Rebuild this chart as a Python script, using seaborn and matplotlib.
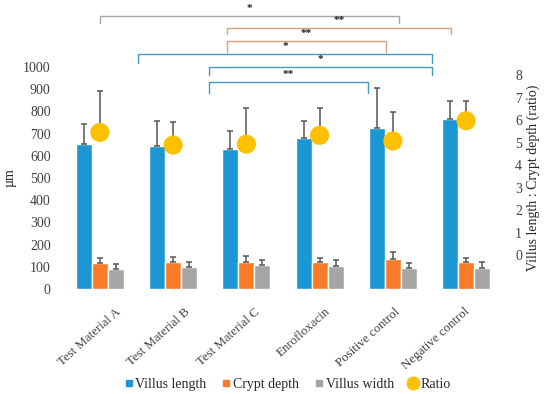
import pandas as pd
import matplotlib.pyplot as plt
import matplotlib.transforms as mtransforms
import seaborn as sns
from matplotlib.lines import Line2D

groups = ['Test Material A', 'Test Material B', 'Test Material C',
          'Enrofloxacin', 'Positive control', 'Negative control']
villus_length = [652, 645, 631, 682, 727, 766]
villus_length_sd = [91, 112, 79, 76, 177, 82]
crypt_depth = [117, 123, 122, 122, 134, 123]
crypt_depth_sd = [21, 21, 28, 19, 31, 17]
villus_width = [91, 99, 108, 105, 93, 96]
villus_width_sd = [20, 24, 21, 24, 24, 24]
ratio = [5.45, 4.89, 4.93, 5.32, 5.07, 5.97]
ratio_sd = [1.85, 1.03, 1.60, 1.20, 1.29, 0.86]

measures = ['Villus length', 'Crypt depth', 'Villus width']
colors = ['#1C97D4', '#F87B28', '#A5A5A5']

df = pd.DataFrame({
    'group': groups * 3,
    'measure': [m for m in measures for _ in groups],
    'value': villus_length + crypt_depth + villus_width,
})
sds = [villus_length_sd, crypt_depth_sd, villus_width_sd]

sns.set_style('white')
plt.rcParams['font.family'] = ['Liberation Serif', 'DejaVu Serif']
plt.rcParams['font.size'] = 10

fig = plt.figure(figsize=(5.5, 3.94), dpi=100)
ax = fig.add_axes([0.115, 0.2665, 0.799, 0.5635])

sns.barplot(data=df, x='group', y='value', hue='measure', palette=colors,
            width=0.655, gap=0, errorbar=None, saturation=1, ax=ax,
            legend=False, zorder=2)

# upper error bars from the drawn bars
for cont, sd in zip(ax.containers, sds):
    xs = [p.get_x() + p.get_width() / 2 for p in cont.patches]
    hs = [p.get_height() for p in cont.patches]
    ax.errorbar(xs, hs, yerr=[[0] * len(sd), sd], fmt='none', ecolor='#555555',
                elinewidth=1.1, capsize=2.5, capthick=1.1, zorder=3)

ax.set_ylim(0, 1000)
ax.set_yticks(range(0, 1001, 100))
ax.set_xlabel('')
ax.set_ylabel('µm', fontsize=10, labelpad=5)
ax.tick_params(axis='y', length=0, pad=9, labelcolor='#404040')
ax.tick_params(axis='x', length=0, pad=2, labelcolor='#404040', labelsize=9.3)
# Excel spaces the slanted labels a little tighter than the bars
for i, lbl in enumerate(ax.get_xticklabels()):
    shift = mtransforms.ScaledTranslation((15 - 3.5 * i) / 100, -14 / 100,
                                          fig.dpi_scale_trans)
    lbl.set_rotation(42)
    lbl.set_ha('right')
    lbl.set_rotation_mode('anchor')
    lbl.set_transform(lbl.get_transform() + shift)
for s in ax.spines.values():
    s.set_visible(False)

ax2 = ax.twinx()
ax2.errorbar(range(len(groups)), ratio, yerr=[[0] * len(ratio), ratio_sd],
             fmt='none', ecolor='#555555', elinewidth=1.1, capsize=2.5,
             capthick=1.1, zorder=3)
sns.scatterplot(x=list(range(len(groups))), y=ratio, ax=ax2, color='#FFC000',
                s=190, edgecolor='none', zorder=4)
ax2.set_ylim(-1.51, 8.36)
ax2.set_yticks(range(0, 9))
ax2.set_ylabel('Villus length : Crypt depth (ratio)', fontsize=10, labelpad=3)
ax2.tick_params(axis='y', length=0, pad=9, labelcolor='#404040')
for s in ax2.spines.values():
    s.set_visible(False)
ax2.set_xlim(-0.5, 5.5)

# significance brackets: x0, x1, y, leg bottom, label, colour
brackets = [
    (0.0, 4.08, 1230, 1198, '*', '#A6A6A6'),
    (1.73, 4.80, 1174, 1149, '**', '#D6A27C'),
    (1.73, 3.90, 1117, 1068, '**', '#D6A27C'),
    (0.52, 4.54, 1059, 1018, '*', '#3E9CC4'),
    (1.49, 4.54, 1000, 964, '*', '#3E9CC4'),
    (1.49, 3.66, 932, 883, '**', '#3E9CC4'),
]
for x0, x1, y, yb, lab, c in brackets:
    ax.plot([x0, x0, x1, x1], [yb, y, y, yb], color=c, lw=1.0,
            clip_on=False, zorder=1)
    ax.text((x0 + x1) / 2, y + 14, lab, ha='center', va='bottom',
            fontsize=8, fontweight='bold', color='#222222')

handles = [Line2D([], [], marker='s', ls='', color=c, markersize=5) for c in colors]
handles.append(Line2D([], [], marker='o', ls='', color='#FFC000', markersize=9))
fig.legend(handles, measures + ['Ratio'], loc='center', ncol=4,
           bbox_to_anchor=(0.52, 0.025), frameon=False, handletextpad=0.0,
           columnspacing=0.9, fontsize=10, handlelength=1)

fig.savefig('out.png', dpi=100)
